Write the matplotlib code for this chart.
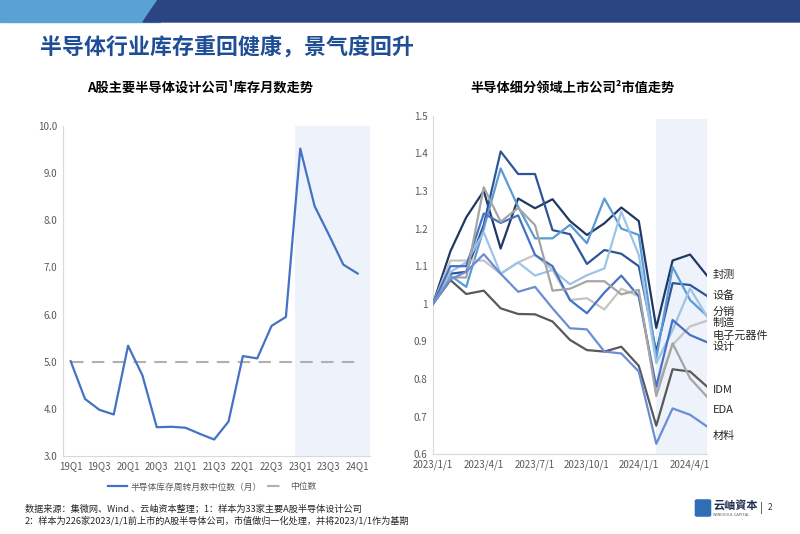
"""半导体库存月数 + 细分领域市值走势 复刻图."""
import matplotlib.pyplot as plt
import matplotlib.patches as mpatches
import numpy as np
import pandas as pd

plt.rcParams['font.family'] = ['Noto Sans CJK SC', 'DejaVu Sans']

# ── 左图数据: 库存周转月数中位数 ──
quarters = ['19Q1', '19Q2', '19Q3', '19Q4', '20Q1', '20Q2', '20Q3', '20Q4',
            '21Q1', '21Q2', '21Q3', '21Q4', '22Q1', '22Q2', '22Q3', '22Q4',
            '23Q1', '23Q2', '23Q3', '23Q4', '24Q1']
inventory_months = [5.01, 4.21, 3.98, 3.88, 5.34, 4.71, 3.61, 3.62, 3.60, 3.47,
                    3.35, 3.73, 5.12, 5.07, 5.76, 5.95, 9.52, 8.30, 7.69, 7.06, 6.87]
median_level = 5.0

# ── 右图数据: 细分领域市值(归一化) ──
months = pd.date_range('2023-01-01', '2024-05-01', freq='MS')
seg_names = ['封测', '设备', '分销', '制造', '电子元器件', '设计', 'IDM', 'EDA', '材料']
v_fengce = [1.00, 1.14, 1.23, 1.30, 1.147, 1.28, 1.254, 1.278, 1.22, 1.183, 1.214, 1.256, 1.22, 0.936, 1.115, 1.131, 1.075]
v_shebei = [1.00, 1.08, 1.085, 1.21, 1.405, 1.345, 1.345, 1.196, 1.185, 1.106, 1.143, 1.133, 1.10, 0.873, 1.055, 1.05, 1.021]
v_fenxiao = [1.00, 1.075, 1.045, 1.20, 1.36, 1.258, 1.174, 1.174, 1.21, 1.161, 1.28, 1.20, 1.183, 0.855, 1.098, 1.01, 0.968]
v_zhizao = [1.00, 1.115, 1.115, 1.115, 1.08, 1.11, 1.13, 1.09, 1.01, 1.015, 0.985, 1.04, 1.02, 0.77, 0.891, 0.94, 0.955]
v_dianzi = [1.00, 1.085, 1.11, 1.19, 1.08, 1.11, 1.075, 1.09, 1.052, 1.076, 1.094, 1.245, 1.13, 0.842, 0.93, 1.041, 0.966]
v_sheji = [1.00, 1.10, 1.10, 1.24, 1.215, 1.235, 1.13, 1.10, 1.01, 0.975, 1.03, 1.075, 1.02, 0.78, 0.957, 0.917, 0.898]
v_idm = [1.00, 1.063, 1.026, 1.035, 0.988, 0.973, 0.972, 0.953, 0.904, 0.877, 0.873, 0.886, 0.835, 0.676, 0.826, 0.82, 0.78]
v_eda = [1.00, 1.07, 1.07, 1.31, 1.218, 1.255, 1.209, 1.035, 1.04, 1.06, 1.06, 1.025, 1.037, 0.755, 0.895, 0.802, 0.753]
v_cailiao = [1.00, 1.065, 1.085, 1.132, 1.08, 1.032, 1.045, 0.988, 0.935, 0.932, 0.873, 0.868, 0.82, 0.628, 0.722, 0.705, 0.674]
seg_values = [v_fengce, v_shebei, v_fenxiao, v_zhizao, v_dianzi, v_sheji, v_idm, v_eda, v_cailiao]

seg_colors = ['#203864', '#2F5597', '#5B9BD5', '#C4C4C4', '#9DC3E6',
              '#4472C4', '#595959', '#A5A5A5', '#6A8DD6']
label_y = [1.077, 1.021, 0.978, 0.949, 0.915, 0.885, 0.771, 0.718, 0.649]

TICK_C = '#595959'
SPINE_C = '#D9D9D9'
SHADE_C = '#EEF2FA'

fig = plt.figure(figsize=(8, 5.34), dpi=100)

# ── 顶部色带 ──
fig.patches.append(mpatches.Rectangle((0, 0.9588), 0.2, 0.0412, transform=fig.transFigure,
                                      color='#5AA2D5', zorder=0))
fig.patches.append(mpatches.Polygon([(143 / 800, 0.9588), (158 / 800, 1.0), (1.0, 1.0), (1.0, 0.9588)],
                                    closed=True, transform=fig.transFigure, color='#2B4583', zorder=1))

fig.text(40 / 800, 1 - 47 / 534, '半导体行业库存重回健康，景气度回升', fontsize=15.8,
         fontweight='bold', color='#1F4E96', va='center', ha='left')
fig.text(200 / 800, 1 - 88 / 534, 'A股主要半导体设计公司¹库存月数走势', fontsize=9.5,
         fontweight='bold', color='black', va='center', ha='center')
fig.text(573 / 800, 1 - 88 / 534, '半导体细分领域上市公司²市值走势', fontsize=9.5,
         fontweight='bold', color='black', va='center', ha='center')

# ── (a) 库存月数 ──
ax1 = fig.add_axes([63 / 800, 1 - 456 / 534, 307 / 800, 330 / 534])
x = np.arange(len(quarters))
ax1.axvspan(15.6, 20.86, color=SHADE_C, lw=0, zorder=0)
ln1, = ax1.plot(x, inventory_months, color='#4472C4', lw=1.6, zorder=3,
                label='半导体库存周转月数中位数（月）')
ln2, = ax1.plot(x, [median_level] * len(x), color='#B0B0B0', lw=1.5, ls=(0, (6, 4)),
                zorder=2, label='中位数')
ax1.set_xlim(-0.535, 20.86)
ax1.set_ylim(3, 10)
ax1.set_yticks(np.arange(3, 10.5, 1.0))
ax1.set_yticklabels([f'{v:.1f}' for v in np.arange(3, 10.5, 1.0)])
ax1.set_xticks(x[::2])
ax1.set_xticklabels(quarters[::2])
for s in ['top', 'right']:
    ax1.spines[s].set_visible(False)
for s in ['left', 'bottom']:
    ax1.spines[s].set_color(SPINE_C)
ax1.tick_params(length=0, labelsize=7, colors=TICK_C, pad=4)
ax1.patch.set_alpha(0)

fig.legend(handles=[ln1, ln2], loc='center', bbox_to_anchor=(212 / 800, 1 - 487 / 534),
           ncol=2, frameon=False, fontsize=6.3, handlelength=2.2, columnspacing=0.6,
           handletextpad=0.4, labelcolor=TICK_C)

# ── (b) 细分领域市值 ──
ax2 = fig.add_axes([433 / 800, 1 - 454.3 / 534, 274 / 800, 338.6 / 534])
ax2.axvspan(months[13], months[-1], ymax=0.99, color=SHADE_C, lw=0, zorder=0)
for name, vals, c, ly in zip(seg_names, seg_values, seg_colors, label_y):
    ax2.plot(months, vals, color=c, lw=1.6, zorder=3)
    ax2.annotate(name, xy=(months[-1], ly), xytext=(4, 0), textcoords='offset points',
                 fontsize=8, color='#262626', va='center', ha='left', annotation_clip=False)
ax2.set_xlim(months[0], months[-1])
ax2.set_ylim(0.6, 1.5)
ax2.set_yticks(np.arange(0.6, 1.51, 0.1))
ax2.set_yticklabels([f'{v:g}' for v in np.round(np.arange(0.6, 1.51, 0.1), 1)])
tick_dates = pd.to_datetime(['2023-01-01', '2023-04-01', '2023-07-01', '2023-10-01',
                             '2024-01-01', '2024-04-01'])
ax2.set_xticks(tick_dates)
ax2.set_xticklabels([f'{d.year}/{d.month}/{d.day}' for d in tick_dates])
for s in ['top', 'right']:
    ax2.spines[s].set_visible(False)
for s in ['left', 'bottom']:
    ax2.spines[s].set_color(SPINE_C)
ax2.tick_params(length=0, labelsize=7, colors=TICK_C, pad=4)
ax2.patch.set_alpha(0)

# ── 底部注释 ──
fig.text(25 / 800, 1 - 509 / 534,
         '数据来源：集微网、Wind 、云岫资本整理；1：样本为33家主要A股半导体设计公司',
         fontsize=6.6, color='#262626', va='center', ha='left')
fig.text(25 / 800, 1 - 521 / 534,
         '2：样本为226家2023/1/1前上市的A股半导体公司，市值做归一化处理，并将2023/1/1作为基期',
         fontsize=6.6, color='#262626', va='center', ha='left')

# logo
fig.patches.append(mpatches.FancyBboxPatch((697 / 800, 1 - 515 / 534), 12 / 800, 14 / 534,
                                           boxstyle='round,pad=0.002', transform=fig.transFigure,
                                           color='#2F6DB5', zorder=2))
fig.text(713 / 800, 1 - 505 / 534, '云岫資本', fontsize=8, fontweight='bold',
         color='#1F2F4F', va='center', ha='left')
fig.text(713 / 800, 1 - 515 / 534, 'WINDSOUL CAPITAL', fontsize=2.8,
         color='#555555', va='center', ha='left')
fig.text(760 / 800, 1 - 508 / 534, '|', fontsize=8, color='#333333', va='center', ha='left')
fig.text(768 / 800, 1 - 508 / 534, '2', fontsize=6, color='#333333', va='center', ha='left')

fig.savefig('out.png', dpi=100)
plt.close(fig)
